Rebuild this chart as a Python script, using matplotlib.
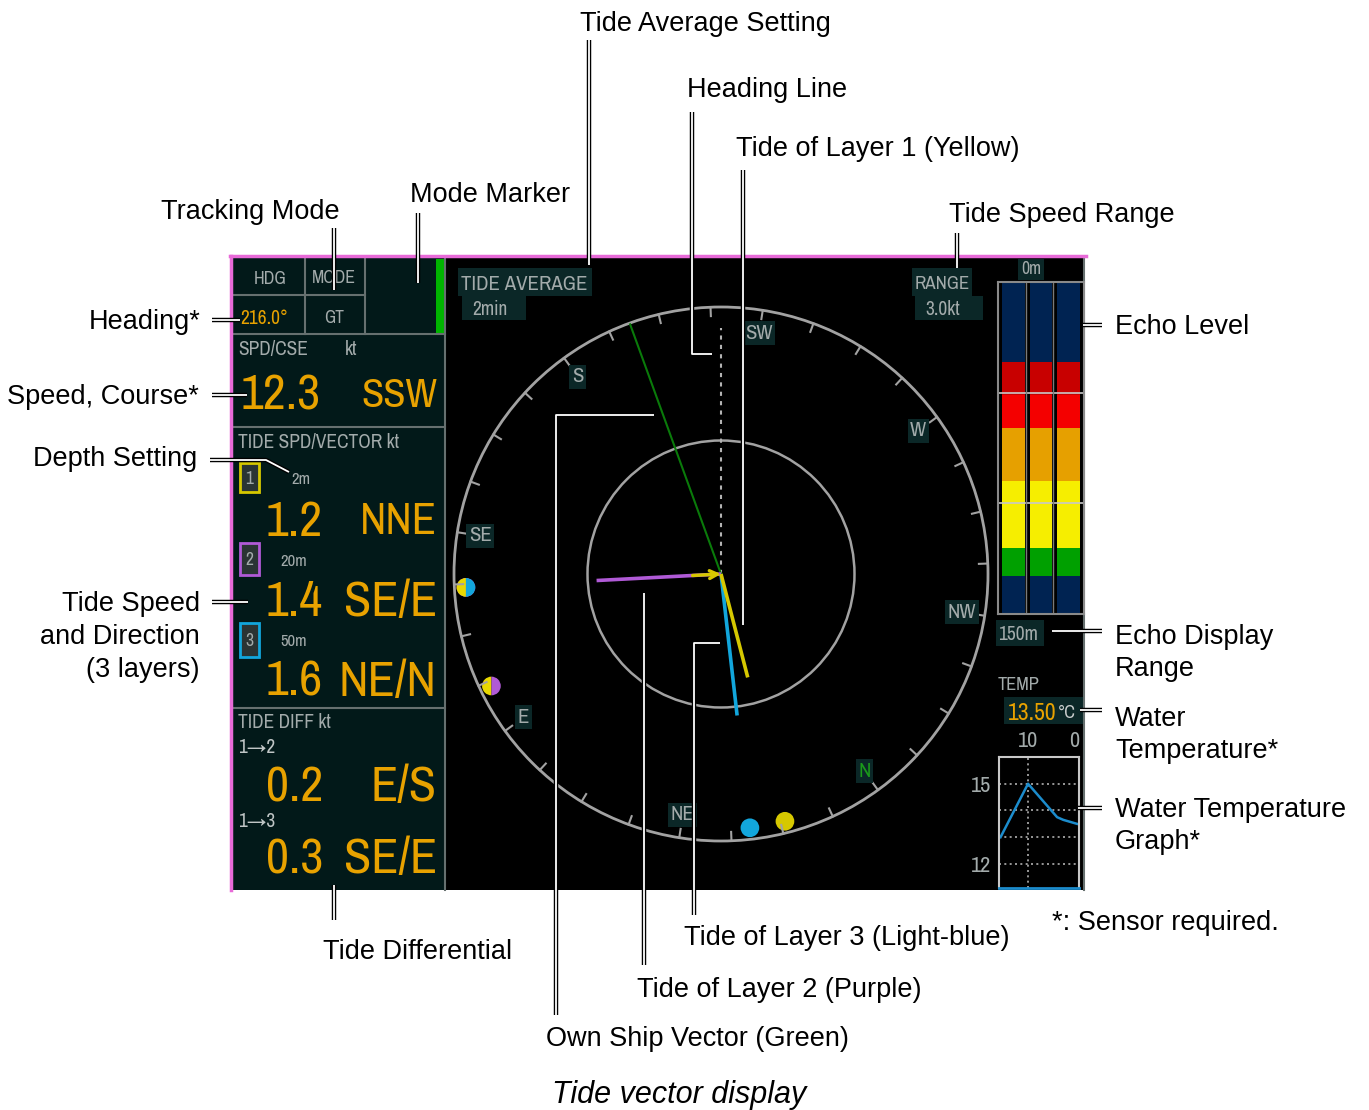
import matplotlib
matplotlib.use('Agg')
import numpy as np
import matplotlib.pyplot as plt
import matplotlib.patheffects as pe
from matplotlib import font_manager as fm
from matplotlib.patches import Rectangle, Circle, Wedge

W, H = 1369, 1110

heading = 216.0
track_mode = 'GT'
avg_time = '2min'
speed_range = 3.0          # kt at outer ring
own_speed = 12.3
own_course_txt = 'SSW'
own_course = 196.0         # deg, green vector

layer_no = ['1', '2', '3']
layer_depth = ['2m', '20m', '50m']
layer_speed = [1.2, 1.4, 1.6]
layer_dir_txt = ['NNE', 'SE/E', 'NE/N']
layer_dir = [21.5, 123.0, 29.5]
layer_colors = ['#d6c800', '#b05ad6', '#12a6dc']

diff_name = ['1→2', '1→3']
diff_speed = [0.2, 0.3]
diff_dir_txt = ['E/S', 'SE/E']
diff_dir = [100.0, 123.0]

compass_pts = ['N', 'NE', 'E', 'SE', 'S', 'SW', 'W', 'NW']

echo_range = 150
echo_edges = [0, 36, 51, 66, 90, 120, 133, 150]   # m
echo_level = [0, 5, 4, 3, 2, 1, 0]
echo_colors = ['#002352', '#00a000', '#f6ee00', '#e6a000', '#f40000', '#c80000']

water_temp = 13.50
temp_min = [15.4, 10.0, 4.3, 3.1, 0.4]
temp_val = [13.0, 15.0, 13.75, 13.65, 13.5]

ORANGE = '#e8a200'
GRAY_TXT = '#a3abab'
PANEL_BG = '#021919'
TXT_BG = '#0b2727'
LINE = '#66706f'
RING = '#a2a2a2'
PINK = '#e86ad8'


def pick_narrow():
    cands = []
    for f in fm.fontManager.ttflist:
        n = f.name
        if f.style != 'normal' or f.weight not in (400, 'normal', 'regular', 'book'):
            continue
        if 'Mono' in n or 'Serif' in n:
            continue
        if 'Narrow' in n:
            cands.append((0, n, f.fname))
        elif n.endswith('Condensed') and not any(k in n for k in ('Extra', 'Semi', 'Ultra')):
            cands.append((1, n, f.fname))
        elif f.stretch == 'condensed':
            cands.append((2, n, f.fname))
    if cands:
        return fm.FontProperties(fname=sorted(cands)[0][2])
    return fm.FontProperties(family='DejaVu Sans')


NARROW = pick_narrow()

fig = plt.figure(figsize=(W / 100, H / 100), dpi=100)
base = fig.add_axes([0, 0, 1, 1])
base.set_xlim(0, W)
base.set_ylim(H, 0)
base.axis('off')
renderer = fig.canvas.get_renderer()


def box_axes(x0, y0, x1, y1):
    return fig.add_axes([x0 / W, 1 - y1 / H, (x1 - x0) / W, (y1 - y0) / H])


def rect(x0, y0, x1, y1, fc, ec='none', lw=0):
    base.add_patch(Rectangle((x0, y0), x1 - x0, y1 - y0, fc=fc, ec=ec, lw=lw))


def ptext(x, y, s, w, cap, color=GRAY_TXT, ha='left'):
    # screen text: sized by cap height, shrunk if wider than the original
    fp = NARROW.copy()
    fp.set_size(100)
    t = base.text(x, y, s, ha=ha, va='baseline', color=color, fontproperties=fp, zorder=5)
    size = min(cap, 100 * w / t.get_window_extent(renderer).width)
    t.set_fontsize(size)
    t.set_y(y + size / 2)
    return t


# ---- screen frame ----
rect(231, 256, 1085, 890, 'black')
rect(232, 257, 445, 890, PANEL_BG)
for (x0, y0), (x1, y1) in [((233, 295), (365, 295)), ((233, 334), (445, 334)),
                           ((233, 427), (445, 427)), ((233, 708), (445, 708)),
                           ((305, 258), (305, 334)), ((365, 258), (365, 334)),
                           ((445, 257), (445, 890)), ((1084, 258), (1084, 890))]:
    base.plot([x0, x1], [y0, y1], color=LINE, lw=1.5)
base.plot([230, 1086], [256, 256], color=PINK, lw=2.5)
base.plot([231, 231], [256, 890], color=PINK, lw=2.5)
rect(436, 259, 444, 333, '#00b400')

# ---- left panel ----
ptext(270, 277, 'HDG', 33, 15, ha='center')
ptext(334, 277, 'MODE', 44, 15, ha='center')
ptext(240, 317, f'{heading:.1f}°', 60, 14, ORANGE)
ptext(334, 317, track_mode, 20, 15, ha='center')
ptext(238, 348, 'SPD/CSE', 75, 14)
ptext(345, 348, 'kt', 20, 14)
ptext(241, 392, f'{own_speed:.1f}', 85, 36, ORANGE)
ptext(437, 392, own_course_txt, 76, 36, ORANGE, ha='right')
ptext(238, 441, 'TIDE SPD/VECTOR kt', 190, 14)

box_y = [(463, 492), (543, 575), (623, 657)]
depth_xy = [(291, 478, 22), (280, 560, 33), (280, 640, 33)]
val_y = [518, 598, 678]
dir_w = [77, 99, 99]
for i in range(3):
    y0, y1 = box_y[i]
    rect(240, y0, 259, y1, '#2a3434', ec=layer_colors[i], lw=2)
    ptext(249.5, (y0 + y1) / 2, layer_no[i], 8, 14, ha='center')
    dx, dy, dw = depth_xy[i]
    ptext(dx, dy, layer_depth[i], dw, 12)
    ptext(266, val_y[i], f'{layer_speed[i]:.1f}', 59, 36, ORANGE)
    ptext(437, val_y[i], layer_dir_txt[i], dir_w[i], 36, ORANGE, ha='right')

ptext(238, 721, 'TIDE DIFF kt', 127, 14)
for j, (yl, yv, w) in enumerate([(746, 783, 72), (820, 855, 99)]):
    ptext(238, yl, diff_name[j], 43, 14, '#c0c6c6')
    ptext(266, yv, f'{diff_speed[j]:.1f}', 59, 36, ORANGE)
    ptext(437, yv, diff_dir_txt[j], w, 36, ORANGE, ha='right')

# ---- centre texts ----
rect(458, 268, 592, 296, TXT_BG)
ptext(461, 282, 'TIDE AVERAGE', 128, 15)
rect(462, 296, 526, 320, TXT_BG)
ptext(472, 308, avg_time, 44, 14)
rect(912, 268, 972, 296, TXT_BG)
ptext(915, 282, 'RANGE', 55, 15)
rect(915, 296, 983, 320, TXT_BG)
ptext(925, 308, f'{speed_range:.1f}kt', 53, 14)

# ---- right panel texts ----
rect(1018, 259, 1044, 280, TXT_BG)
ptext(1031, 268, '0m', 20, 13, ha='center')
rect(996, 620, 1044, 646, TXT_BG)
ptext(998, 633, f'{echo_range}m', 42, 14)
ptext(998, 683, 'TEMP', 42, 15)
rect(1004, 697, 1083, 724, TXT_BG)
t = ptext(1008, 711, f'{water_temp:.2f}', 54, 17, ORANGE)
ptext(t.get_window_extent(renderer).x1 + 1, 711, '°C', 18, 17, '#c8cccc')

# ---- compass / tide vectors ----
comp = box_axes(454, 307, 988, 841)
comp.set_xlim(-speed_range, speed_range)
comp.set_ylim(-speed_range, speed_range)
comp.axis('off')


def pos(bearing, r):
    th = np.radians(bearing - heading)
    return r * np.sin(th), r * np.cos(th)


comp.add_patch(Circle((0, 0), speed_range, fill=False, ec=RING, lw=2, clip_on=False))
comp.add_patch(Circle((0, 0), speed_range / 2, fill=False, ec=RING, lw=1.8))
for k in range(32):
    x0, y0 = pos(k * 11.25, speed_range)
    x1, y1 = pos(k * 11.25, speed_range - 0.1)
    comp.plot([x0, x1], [y0, y1], color=RING, lw=1.5)
for i, name in enumerate(compass_pts):
    x, y = pos(i * 45, 2.74)
    comp.text(x, y, name, ha='center', va='center', fontproperties=NARROW, fontsize=15,
              color='#1a9a1a' if name == 'N' else GRAY_TXT,
              bbox=dict(boxstyle='square,pad=0.12', fc=TXT_BG, ec='none'))

comp.plot([0, 0], [0, 2.76], color='#b4b4b4', lw=1.5, ls=(0, (2, 2.5)))
xg, yg = pos(own_course, min(own_speed / speed_range, 1) * speed_range * 0.995)
comp.plot([0, xg], [0, yg], color='#0a7a0a', lw=1.5)
for i in (2, 1, 0):
    x, y = pos(layer_dir[i], layer_speed[i])
    comp.plot([0, x], [0, y], color=layer_colors[i], lw=2.6, solid_capstyle='butt')
xa, ya = pos(layer_dir[1], 0.32)
comp.annotate('', xy=(0, 0), xytext=(xa, ya),
              arrowprops=dict(arrowstyle='->', color=layer_colors[0], lw=2.4,
                              mutation_scale=14, shrinkA=0, shrinkB=0))

R_DOT = 2.87
for i in range(3):
    comp.add_patch(Circle(pos(layer_dir[i], R_DOT), 0.105, fc=layer_colors[i], ec='none'))
for j in range(2):
    c = pos(diff_dir[j], R_DOT)
    comp.add_patch(Wedge(c, 0.105, 90, 270, fc='#e8d800', ec='none'))
    comp.add_patch(Wedge(c, 0.105, -90, 90, fc=layer_colors[j + 1], ec='none'))

# ---- echo level bars ----
echo = box_axes(998, 282, 1084, 614)
echo.set_facecolor('black')
for c in range(3):
    echo.bar([c] * len(echo_level), np.diff(echo_edges), bottom=echo_edges[:-1], width=0.82,
             color=[echo_colors[l] for l in echo_level])
echo.set_xlim(-0.56, 2.56)
echo.set_ylim(echo_range, 0)
for d in (50, 100):
    echo.axhline(d, color='#c8c8c8', lw=1.2)
for xb in (0.45, 1.45):
    echo.axvline(xb, color='#7a7a7a', lw=1)
echo.set_xticks([])
echo.set_yticks([])
for s in echo.spines.values():
    s.set_color('#8a8a8a')
    s.set_linewidth(1.5)

# ---- water temperature graph ----
tg = box_axes(999, 757, 1079, 888)
tg.set_facecolor('black')
tg.set_xlim(15.7, 0)
tg.set_ylim(11.1, 16.0)
for v in (12, 13, 14, 15):
    tg.axhline(v, color='#b0b0b0', lw=1.2, ls=(0, (1.2, 2)))
tg.axvline(10, color='#b0b0b0', lw=1.2, ls=(0, (1.2, 2)))
tg.plot(temp_min, temp_val, color='#1c8ccc', lw=1.8)
tg.set_xticks([10, 0.9])
tg.set_xticklabels(['10', '0'])
tg.set_yticks([15, 12])
tg.xaxis.tick_top()
tg.tick_params(length=0, colors=GRAY_TXT, pad=4)
tg.tick_params(axis='y', pad=6)
for lab in tg.get_xticklabels() + tg.get_yticklabels():
    lab.set_fontproperties(NARROW)
    lab.set_fontsize(16)
for s in tg.spines.values():
    s.set_color('#c8c8c8')
    s.set_linewidth(1.5)
tg.spines['bottom'].set_color('#1c8ccc')
tg.spines['bottom'].set_linewidth(2)

# ---- callouts ----
ann = fig.add_axes([0, 0, 1, 1])
ann.set_xlim(0, W)
ann.set_ylim(H, 0)
ann.axis('off')

leaders = [
    [(589, 40), (589, 265)],
    [(692, 112), (692, 354), (712, 354)],
    [(743, 170), (743, 625)],
    [(957, 233), (957, 268)],
    [(418, 213), (418, 283)],
    [(334, 228), (334, 290)],
    [(212, 320), (240, 320)],
    [(212, 395), (247, 395)],
    [(210, 460), (266, 460), (289, 472)],
    [(212, 602), (248, 602)],
    [(334, 885), (334, 920)],
    [(556, 1015), (556, 415), (654, 415)],
    [(644, 965), (644, 593)],
    [(694, 915), (694, 643), (720, 643)],
    [(1083, 325), (1102, 325)],
    [(1052, 631), (1102, 631)],
    [(1080, 710), (1102, 710)],
    [(1078, 808), (1102, 808)],
]
for pts in leaders:
    xs, ys = zip(*pts)
    ann.plot(xs, ys, color='white', lw=1.3, solid_capstyle='butt',
             path_effects=[pe.Stroke(linewidth=3.2, foreground='black'), pe.Normal()])

labels = [
    ('Tide Average Setting', 705, 22, 'center'),
    ('Heading Line', 767, 88, 'center'),
    ('Tide of Layer 1 (Yellow)', 878, 147, 'center'),
    ('Mode Marker', 490, 193, 'center'),
    ('Tracking Mode', 250, 210, 'center'),
    ('Tide Speed Range', 1062, 213, 'center'),
    ('Heading*', 201, 320, 'right'),
    ('Speed, Course*', 199, 395, 'right'),
    ('Depth Setting', 197, 457, 'right'),
    ('Tide Speed', 200, 602, 'right'),
    ('and Direction', 200, 635, 'right'),
    ('(3 layers)', 200, 668, 'right'),
    ('Tide Differential', 418, 950, 'center'),
    ('Tide of Layer 3 (Light-blue)', 847, 936, 'center'),
    ('Tide of Layer 2 (Purple)', 779, 988, 'center'),
    ('Own Ship Vector (Green)', 697, 1037, 'center'),
    ('Echo Level', 1115, 325, 'left'),
    ('Echo Display', 1115, 635, 'left'),
    ('Range', 1115, 667, 'left'),
    ('Water', 1115, 717, 'left'),
    ('Temperature*', 1115, 749, 'left'),
    ('Water Temperature', 1115, 808, 'left'),
    ('Graph*', 1115, 840, 'left'),
    ('*: Sensor required.', 1052, 921, 'left'),
]
for s, x, y, ha in labels:
    ann.text(x, y + 2, s, ha=ha, va='center', fontsize=19.5, color='black',
             family=['Liberation Sans', 'DejaVu Sans'])
ann.text(679, 1095, 'Tide vector display', ha='center', va='center', fontsize=22,
         style='italic', family=['Liberation Sans', 'DejaVu Sans'])

fig.savefig('out.png', dpi=100)
